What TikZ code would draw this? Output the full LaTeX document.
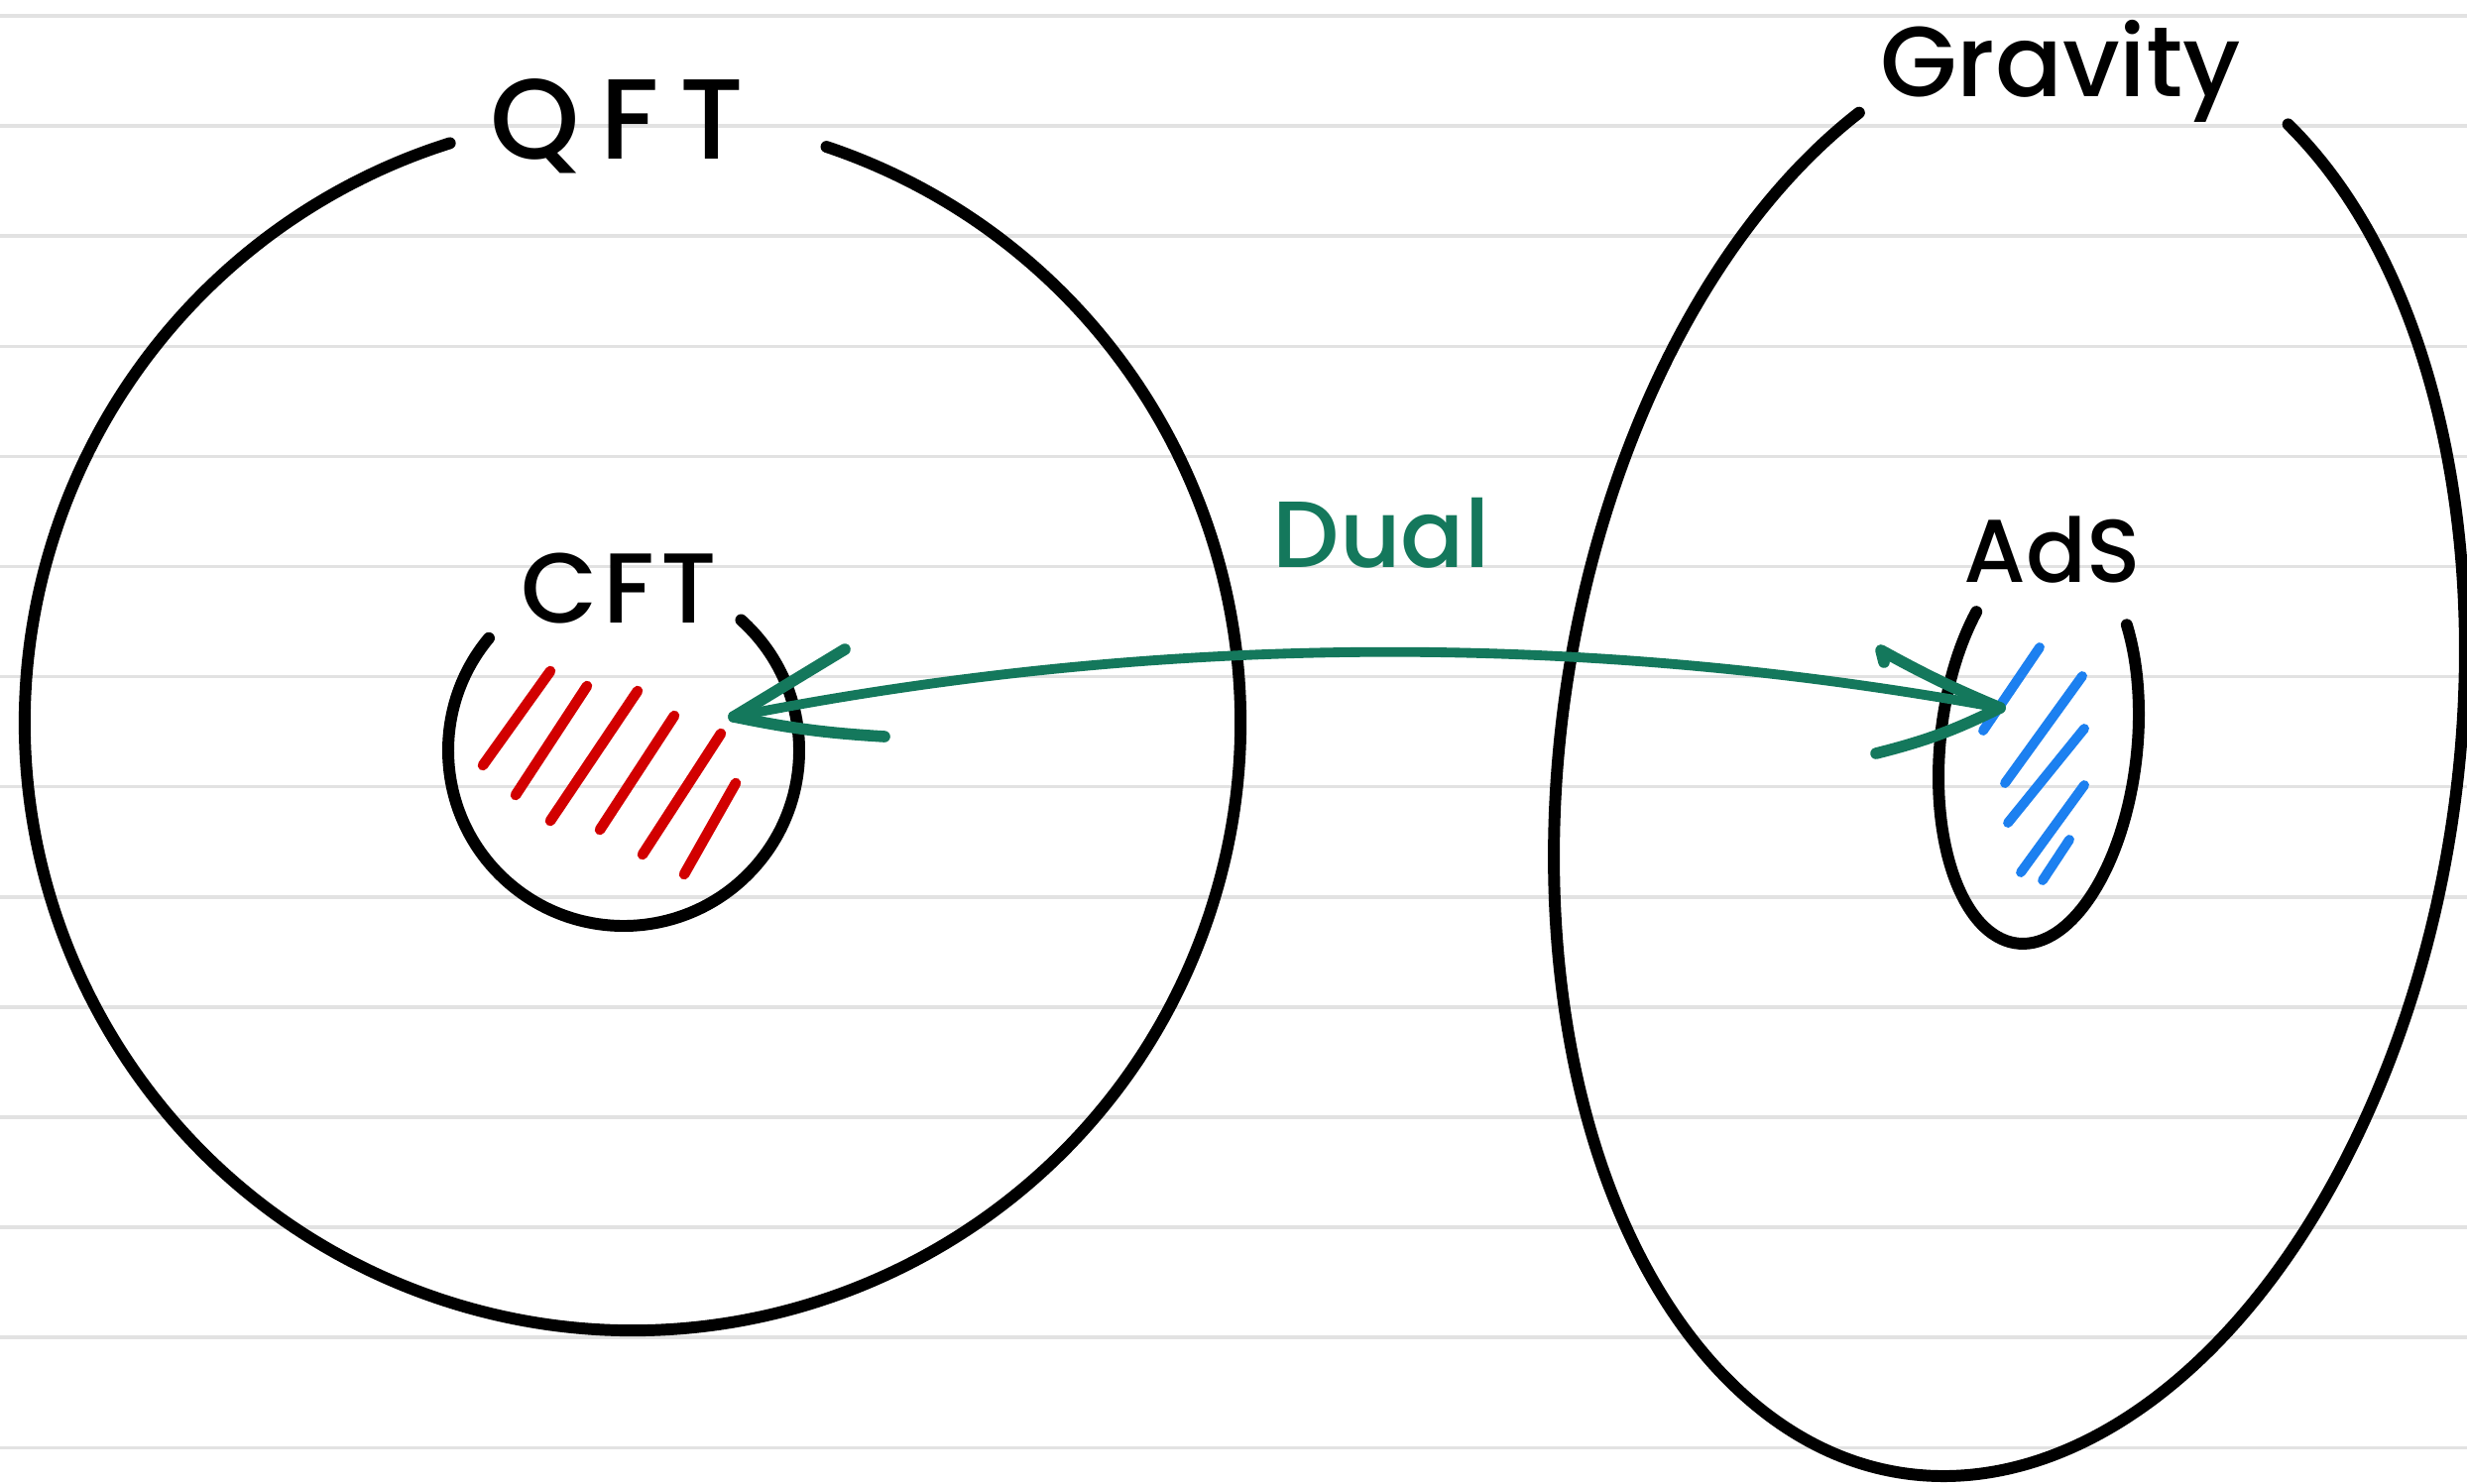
\documentclass[tikz,border=0pt]{standalone}
\usepackage{fontspec}
\setmainfont{Poppins}[UprightFont={* Medium}]
\definecolor{rulegray}{RGB}{226,226,226}
\definecolor{dualgreen}{RGB}{20,120,92}
\definecolor{hatchred}{RGB}{210,0,0}
\definecolor{hatchblue}{RGB}{28,128,240}
\begin{document}
\begin{tikzpicture}[x=0.01cm, y=-0.01cm,
  inkline/.style={line width=3.4pt, line cap=round, line join=round, draw=black},
  ruled/.style={line width=1pt, draw=rulegray},
  redhatch/.style={line width=3pt, line cap=round, draw=hatchred},
  bluehatch/.style={line width=2.8pt, line cap=round, draw=hatchblue},
  dualshaft/.style={line width=2.8pt, line cap=round, draw=dualgreen},
  dualbarb/.style={line width=3.3pt, line cap=round, line join=round, draw=dualgreen},
  handtext/.style={inner sep=0pt, anchor=base}]

% page and ruled paper
\useasboundingbox (0,0) rectangle (2488,1496);
\fill[white] (0,0) rectangle (2488,1496);
\foreach \k in {0,...,13}
  \draw[ruled] (0,{16+111.1*\k}) -- (2488,{16+111.1*\k});

% QFT: large circle, open at the top for its label
\coordinate (qftc) at (638,729);
\draw[inkline] ([shift={(-71.4:613)}]qftc) arc[start angle=-71.4, end angle=252.5, radius=613];
\node[handtext, font=\fontsize{32.7}{36}\selectfont\addfontfeature{LetterSpace=18}] (qft) at (622,160) {QFT};

% CFT: small circle inside QFT
\coordinate (cftc) at (629,757);
\draw[inkline] ([shift={(-48:177)}]cftc) arc[start angle=-48, end angle=219.8, radius=177];
\node[handtext, font=\fontsize{28.5}{32}\selectfont\addfontfeature{LetterSpace=6}] (cft) at (624,628) {CFT};

% red hatching of the CFT region
\draw[redhatch] (555,677) -- (487,772);
\draw[redhatch] (592,692) -- (520,802);
\draw[redhatch] (643,697) -- (555,828);
\draw[redhatch] (680,722) -- (605,837);
\draw[redhatch] (727,740) -- (648,862);
\draw[redhatch] (742,790) -- (690,882);

% Gravity: large tilted oval, open at the top for its label
\begin{scope}[shift={(2026.5,760)}, rotate=-8.36]
  \draw[inkline] (-65.7:451.7 and 733.8)
    arc[start angle=-65.7, end angle=237.3, x radius=451.7, y radius=733.8];
\end{scope}
\node[handtext, font=\fontsize{28.5}{32}\selectfont] (gravity) at (2078,97) {Gravity};

% AdS: small tilted oval inside Gravity
\begin{scope}[shift={(2056,752)}, rotate=-6.06]
  \draw[inkline] (-40.5:99.3 and 200.8)
    arc[start angle=-40.5, end angle=219.4, x radius=99.3, y radius=200.8];
\end{scope}
\node[handtext, font=\fontsize{25.6}{30}\selectfont] (ads) at (2070,587) {AdS};

% blue hatching of the AdS region
\draw[bluehatch] (2057,653) -- (2000,737);
\draw[bluehatch] (2100,682) -- (2022,790);
\draw[bluehatch] (2102,735) -- (2025,830);
\draw[bluehatch] (2102,792) -- (2038,880);
\draw[bluehatch] (2087,847) -- (2060,888);

% duality arrow between the two hatched regions
\coordinate (cfttip) at (740,723);
\coordinate (adstip) at (2017,714);
\draw[dualshaft] (cfttip) .. controls (1165,639) and (1591,636) .. (adstip);
\draw[dualbarb] (cfttip) -- ++(112,-68);
\draw[dualbarb] (cfttip) to[bend right=4] ++(152,20);
\draw[dualbarb] (adstip) to[bend left=3] ++(-120,-58) -- ++(3,12);
\draw[dualbarb] (adstip) to[bend left=6] ++(-125,46);
\node[handtext, font=\fontsize{27}{31}\selectfont, text=dualgreen] (dual) at (1393,572) {Dual};
\end{tikzpicture}
\end{document}
